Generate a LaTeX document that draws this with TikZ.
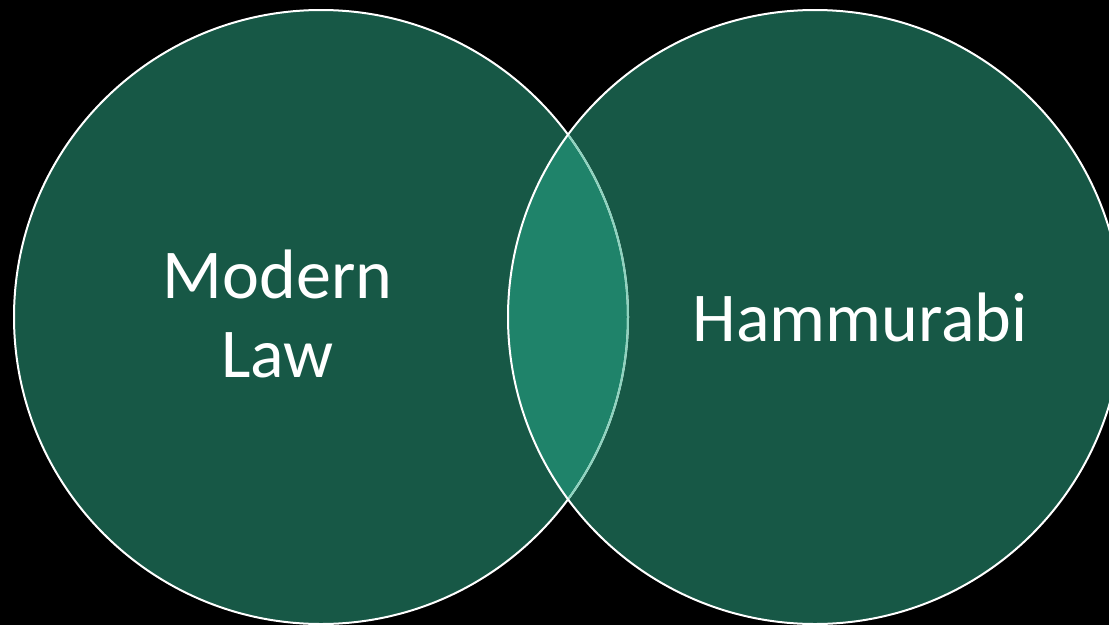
\documentclass[tikz,border=0pt]{standalone}
\usepackage{fontspec}
\setmainfont{Carlito}
\definecolor{vgreen}{HTML}{175846}
\definecolor{vlens}{HTML}{1F836A}
\definecolor{vpale}{HTML}{8ED3BF}
\begin{document}
\begin{tikzpicture}[x=1pt,y=-1pt,
  vcircle/.style={fill=vgreen},
  vedge/.style={draw=white,line width=2pt},
  vlabel/.style={text=white,font=\fontsize{70}{79}\selectfont,align=center,inner sep=0pt}]
\useasboundingbox[fill=black] (0,0) rectangle (1109,625);
\coordinate (cl) at (321,317);
\coordinate (cr) at (815,317);
\fill[vcircle] (cl) circle[radius=307];
\fill[vcircle] (cr) circle[radius=307];
\begin{scope}
  \clip (cl) circle[radius=307];
  \fill[vlens] (cr) circle[radius=307];
\end{scope}
\draw[vedge] (cl) circle[radius=307];
\begin{scope}
  \clip (cr) circle[radius=307];
  \draw[draw=vpale,line width=2pt] (cl) circle[radius=307];
\end{scope}
\draw[vedge] (cr) circle[radius=307];
\node[vlabel,anchor=base] (ml) at (277.5,377) {Modern\\Law};
\node[vlabel,anchor=base] (hm) at (860,341) {Hammurabi};
\end{tikzpicture}
\end{document}
